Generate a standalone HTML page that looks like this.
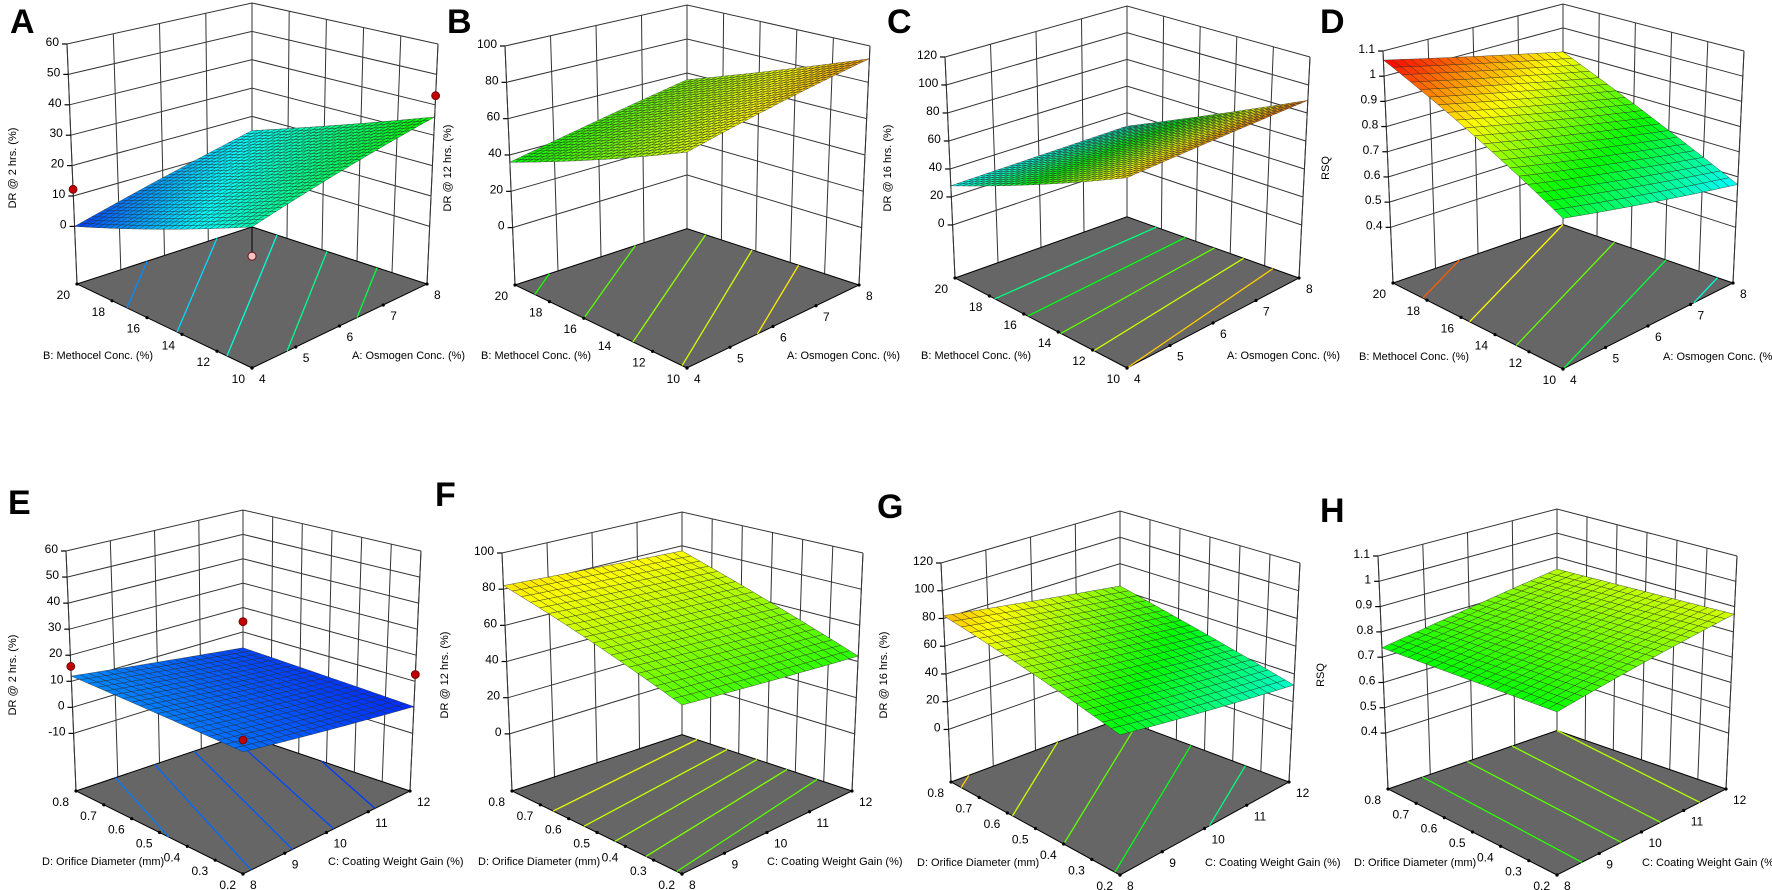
<!DOCTYPE html>
<html><head><meta charset="utf-8"><title>Response surfaces</title>
<style>
html,body{margin:0;padding:0;background:#fff;}
svg{display:block;font-family:"Liberation Sans",Arial,sans-serif;}
</style></head>
<body>
<svg id="fig" width="1772" height="890" viewBox="0 0 1772 890" xmlns="http://www.w3.org/2000/svg">
<rect x="0" y="0" width="1772" height="890" fill="#ffffff"/>
</svg>
<script>
// ---- data ----
const panelLetters = ['A','B','C','D','E','F','G','H'];
const zTitles = ['DR @ 2 hrs. (%)','DR @ 12 hrs. (%)','DR @ 16 hrs. (%)','RSQ','DR @ 2 hrs. (%)','DR @ 12 hrs. (%)','DR @ 16 hrs. (%)','RSQ'];
const zTicks = [
  [0,10,20,30,40,50,60],[0,20,40,60,80,100],[0,20,40,60,80,100,120],[0.4,0.5,0.6,0.7,0.8,0.9,1,1.1],
  [-10,0,10,20,30,40,50,60],[0,20,40,60,80,100],[0,20,40,60,80,100,120],[0.4,0.5,0.6,0.7,0.8,0.9,1,1.1]
];
const uTitles = ['A: Osmogen Conc. (%)','A: Osmogen Conc. (%)','A: Osmogen Conc. (%)','A: Osmogen Conc. (%)','C: Coating Weight Gain (%)','C: Coating Weight Gain (%)','C: Coating Weight Gain (%)','C: Coating Weight Gain (%)'];
const vTitles = ['B: Methocel Conc. (%)','B: Methocel Conc. (%)','B: Methocel Conc. (%)','B: Methocel Conc. (%)','D: Orifice Diameter (mm)','D: Orifice Diameter (mm)','D: Orifice Diameter (mm)','D: Orifice Diameter (mm)'];
const uTicksTop = ['4','5','6','7','8'];
const vTicksTop = ['10','12','14','16','18','20'];
const uTicksBottom = ['8','9','10','11','12'];
const vTicksBottom = ['0.2','0.3','0.4','0.5','0.6','0.7','0.8'];
// surface values at corners: front (u=0,v=0), left (u=0,v=1), right (u=1,v=0), back (u=1,v=1)
const valFront = [21, 71, 80, 0.70, 8.4, 49, 49, 0.741];
const valLeft  = [0, 36, 28, 1.064, 12, 82, 82, 0.737];
const valRight = [36, 93, 89, 0.57, 0.3, 43, 32, 0.87];
const valBack  = [15, 56, 30, 0.90, 3.5, 77, 63, 0.85];
const colorMin = [-5, -45, 4, 0.41, -5, -45, 4, 0.41];
const colorMax = [75, 118, 99, 1.06, 120, 118, 99, 1.06];
const contourLevels = [
  [6,12,18,24,30],[40,50,60,70,80],[40,50,60,70,80],[0.6,0.7,0.8,0.9,1.0],
  [2,4,6,8,10],[50,56,62,68,74],[40,50,60,70,80],[0.76,0.79,0.82,0.85]
];
// design points (panel index, u, v, value)
const pointPanel = [0,0,0,4,4,4,4];
const pointU = [0,1,0,0,1,0,1];
const pointV = [1,0,0,1,1,0,0];
const pointZ = [12.2,43,12.7,15.7,14.2,12.3,12.6];

// ---- geometry (layout, not data) ----
const geom = [
  {fx:252,hw:175,ly:44,lf:284,by:3,ff:368,oy:0,lx:10,mesh:30},
  {fx:687,hw:172,ly:46,lf:285,by:5,ff:368,oy:0,lx:447,mesh:30},
  {fx:1127,hw:172,ly:57,lf:278,by:6,ff:368,oy:0,lx:887,mesh:30},
  {fx:1563,hw:170,ly:51,lf:283,by:4,ff:369,oy:0,lx:1320,mesh:20},
  {fx:243,hw:167,ly:44,lf:284,by:3,ff:367,oy:507,lx:8,mesh:20},
  {fx:682,hw:170,ly:46,lf:284,by:5,ff:367,oy:507,lx:435,mesh:20},
  {fx:1120,hw:169,ly:56,lf:275,by:4,ff:368,oy:507,lx:877,mesh:20},
  {fx:1557,hw:169,ly:49,lf:282,by:2,ff:368,oy:507,lx:1320,mesh:20}
];
const labelBase=[33,33,33,33,514,506,518,522];

const NS='http://www.w3.org/2000/svg';
const svg=document.getElementById('fig');
function mk(tag,attrs,parent){const e=document.createElementNS(NS,tag);for(const k in attrs)e.setAttribute(k,attrs[k]);(parent||svg).appendChild(e);return e;}

function cmap(s){
  s=Math.max(0,Math.min(1,s));
  const st=[[0,0,255],[0,255,255],[0,255,0],[255,255,0],[255,0,0]];
  const x=s*4,i=Math.min(3,Math.floor(x)),f=x-i;
  const c=st[i].map((a,k)=>Math.round(a+(st[i+1][k]-a)*f));
  return 'rgb('+c.join(',')+')';
}

function makeProj(p){
  const g=geom[p],ticks=zTicks[p];
  const zmin=ticks[0],zhi=ticks[ticks.length-1];
  const zlo=zmin-0.24/0.76*(zhi-zmin);
  const ft=g.ly+(g.ly-g.by)*1.1;
  const bf=g.lf-(g.ff-g.lf)*0.68;
  const C={
    F:{b:[g.fx,g.ff],t:[g.fx,ft]},
    L:{b:[g.fx-g.hw,g.lf],t:[g.fx-g.hw-10,g.ly]},
    R:{b:[g.fx+g.hw,g.lf],t:[g.fx+g.hw+11,g.ly]},
    K:{b:[g.fx,bf],t:[g.fx,g.by]}
  };
  function at(c,t){return [c.b[0]+(c.t[0]-c.b[0])*t,c.b[1]+(c.t[1]-c.b[1])*t];}
  function projT(u,v,t){
    const f=at(C.F,t),l=at(C.L,t),r=at(C.R,t),k=at(C.K,t);
    const w1=(1-u)*(1-v),w2=(1-u)*v,w3=u*(1-v),w4=u*v;
    return [w1*f[0]+w2*l[0]+w3*r[0]+w4*k[0], w1*f[1]+w2*l[1]+w3*r[1]+w4*k[1]+g.oy];
  }
  function tz(z){return (z-zlo)/(zhi-zlo);}
  return {projT,tz,proj:(u,v,z)=>projT(u,v,tz(z))};
}
function fval(p,u,v){return valFront[p]*(1-u)*(1-v)+valLeft[p]*(1-u)*v+valRight[p]*u*(1-v)+valBack[p]*u*v;}
function pts(a){return a.map(q=>q[0].toFixed(1)+','+q[1].toFixed(1)).join(' ');}

for(let p=0;p<8;p++){
  const g=geom[p],P=makeProj(p);
  const grp=mk('g',{});
  
  
  const ut=p<4?uTicksTop:uTicksBottom, vt=p<4?vTicksTop:vTicksBottom;
  const zt=zTicks[p];
  const wall=mk('g',{stroke:'#333','stroke-width':1,fill:'none'},grp);
  
  
  for(let i=0;i<ut.length;i++){const u=i/(ut.length-1);mk('polyline',{points:pts([P.projT(u,1,0),P.projT(u,1,1)])},wall);}
  for(let i=0;i<vt.length;i++){const v=i/(vt.length-1);mk('polyline',{points:pts([P.projT(1,v,0),P.projT(1,v,1)])},wall);}
  zt.forEach(z=>{
    mk('polyline',{points:pts([P.proj(0,1,z),P.proj(1,1,z),P.proj(1,0,z)])},wall);
  });
  mk('polyline',{points:pts([P.projT(0,1,0),P.projT(0,1,1)])},wall);
  mk('polyline',{points:pts([P.projT(1,0,0),P.projT(1,0,1)])},wall);
  zt.forEach(z=>{
    const q=P.proj(0,1,z);
    const tk=mk('line',{x1:q[0]-5,y1:q[1],x2:q[0],y2:q[1],stroke:'#000','stroke-width':1.2},grp);
    
    
    const tx=mk('text',{x:q[0]-8,y:q[1]+2,'font-size':12,'text-anchor':'end',fill:'#000'},grp);
    
    
    tx.textContent=String(z);
  });
  const fl=mk('polygon',{points:pts([P.projT(0,0,0),P.projT(0,1,0),P.projT(1,1,0),P.projT(1,0,0)]),fill:'#666666',stroke:'#000','stroke-width':1},grp);
  
  
  const dU=Math.abs(valRight[p]-valFront[p])+Math.abs(valBack[p]-valLeft[p]);
  const dV=Math.abs(valLeft[p]-valFront[p])+Math.abs(valBack[p]-valRight[p]);
  contourLevels[p].forEach(lv=>{
    const line=[];
    for(let i=0;i<=200;i++){
      const s=i/200;let u,v;
      if(dV>=dU){u=s;const a=fval(p,u,0),b=fval(p,u,1)-a;if(Math.abs(b)<1e-9)continue;v=(lv-a)/b;}
      else{v=s;const a=fval(p,0,v),b=fval(p,1,v)-a;if(Math.abs(b)<1e-9)continue;u=(lv-a)/b;}
      if(u>=0&&u<=1&&v>=0&&v<=1)line.push(P.projT(u,v,0));
    }
    if(line.length>1){
      const c=mk('polyline',{points:pts([line[0],line[line.length-1]]),stroke:cmap((lv-colorMin[p])/(colorMax[p]-colorMin[p])),'stroke-width':1.3,fill:'none'},grp);
      
      
    }
  });
  ut.forEach((lab,i)=>{
    const q=P.projT(i/(ut.length-1),0,0);
    mk('circle',{cx:q[0],cy:q[1],r:1.6,fill:'#000'},grp);
    const t=mk('text',{x:q[0]+7,y:q[1]+15,'font-size':12,fill:'#000'},grp);
    
    
    t.textContent=lab;
  });
  vt.forEach((lab,i)=>{
    const q=P.projT(0,i/(vt.length-1),0);
    mk('circle',{cx:q[0],cy:q[1],r:1.6,fill:'#000'},grp);
    const t=mk('text',{x:q[0]-7,y:q[1]+15,'font-size':12,'text-anchor':'end',fill:'#000'},grp);
    
    
    t.textContent=lab;
  });
  const n=g.mesh,cells=[];
  for(let i=0;i<n;i++)for(let j=0;j<n;j++)cells.push([i,j]);
  cells.sort((a,b)=>(b[0]+b[1])-(a[0]+a[1]));
  const sg=mk('g',{stroke:'#2a2a2a','stroke-width':0.5,'stroke-opacity':0.8},grp);
  
  
  cells.forEach(([i,j])=>{
    const u0=i/n,u1=(i+1)/n,v0=j/n,v1=(j+1)/n;
    const poly=[[u0,v0],[u1,v0],[u1,v1],[u0,v1]].map(([u,v])=>P.proj(u,v,fval(p,u,v)));
    const fc=fval(p,(u0+u1)/2,(v0+v1)/2);
    mk('polygon',{points:pts(poly),fill:cmap((fc-colorMin[p])/(colorMax[p]-colorMin[p]))},sg);
  });
  for(let k=0;k<pointPanel.length;k++){
    if(pointPanel[k]!==p)continue;
    const q=P.proj(pointU[k],pointV[k],pointZ[k]);
    const below=pointZ[k]<fval(p,pointU[k],pointV[k])-1;
    if(below){const s=P.proj(pointU[k],pointV[k],fval(p,pointU[k],pointV[k]));mk('line',{x1:s[0],y1:s[1],x2:q[0],y2:q[1],stroke:'#000','stroke-width':1},grp);}
    const dp=mk('circle',{cx:q[0],cy:q[1],r:4,fill:below?'#f4c4c4':'#c00000',stroke:'#600','stroke-width':0.8},grp);
    
    
  }
  const zx=Math.max(16,g.fx-g.hw-64);
  const zt0=mk('text',{x:0,y:0,'font-size':11,'text-anchor':'middle',fill:'#000',transform:'translate('+zx+','+(168+g.oy)+') rotate(-90)'},grp);
  
  
  zt0.textContent=zTitles[p];
  const vt0=mk('text',{x:g.fx-g.hw-34,y:g.ff-9+g.oy,'font-size':11,fill:'#000'},grp);
  
  
  vt0.textContent=vTitles[p];
  const ut0=mk('text',{x:g.fx+(p<4?100:85),y:g.ff-9+g.oy,'font-size':11,fill:'#000'},grp);
  
  
  ut0.textContent=uTitles[p];
  const lt=mk('text',{x:g.lx,y:labelBase[p],'font-size':34,'font-weight':'bold',fill:'#000'},grp);
  
  
  lt.textContent=panelLetters[p];
}
</script>
</body></html>
